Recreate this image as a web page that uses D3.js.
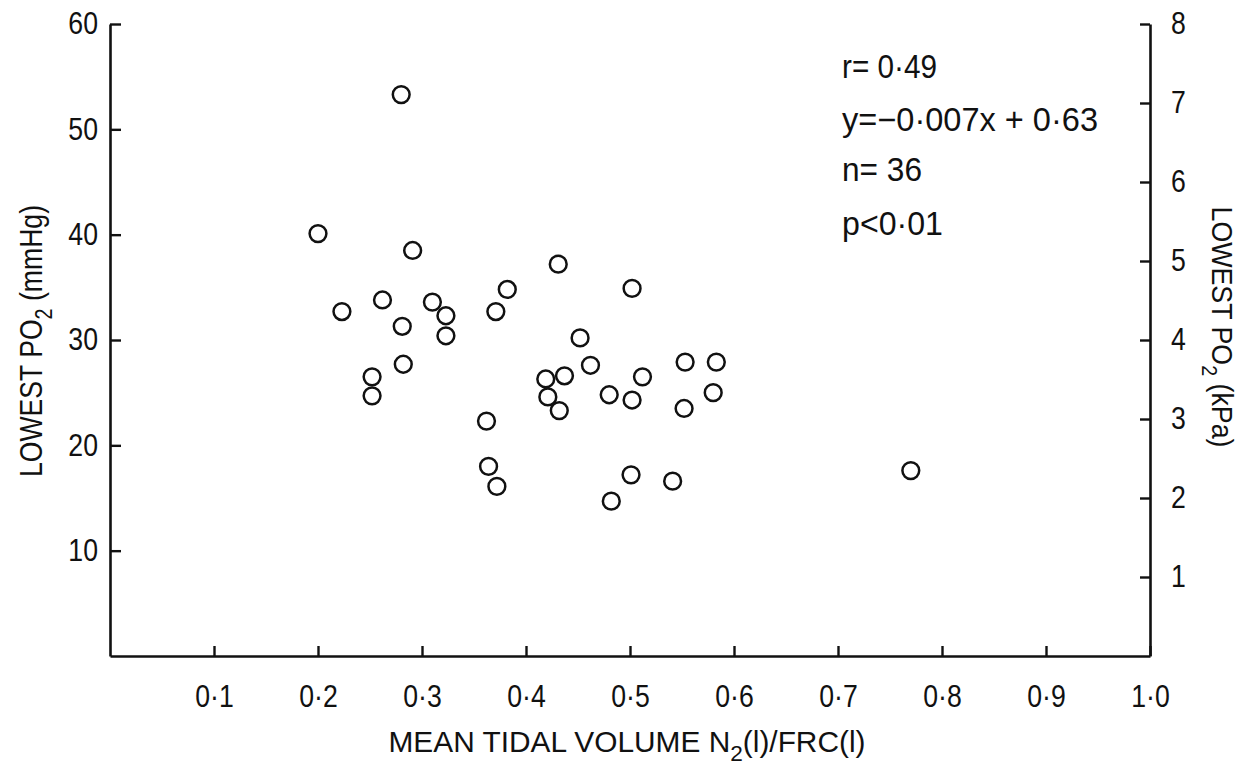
<!DOCTYPE html>
<html>
<head>
<meta charset="utf-8">
<script src="https://cdn.jsdelivr.net/npm/d3@7"></script>
<style>
  html, body { margin: 0; padding: 0; background: #fff; }
  svg { display: block; }
  text { font-family: "Liberation Sans", Arial, sans-serif; fill: #111; }
</style>
</head>
<body>
<svg id="chart" width="1252" height="775"></svg>
<script>
// ---- data ----
const tidalRatio = [0.280, 0.200, 0.291, 0.431, 0.382, 0.502, 0.223, 0.262, 0.310, 0.323,
                    0.371, 0.281, 0.323, 0.452, 0.282, 0.462, 0.252, 0.252, 0.419, 0.437,
                    0.512, 0.421, 0.432, 0.480, 0.502, 0.362, 0.364, 0.372, 0.501, 0.482,
                    0.553, 0.583, 0.580, 0.552, 0.541, 0.770];
const lowestPO2 = [53.3, 40.1, 38.5, 37.2, 34.8, 34.9, 32.7, 33.8, 33.6, 32.3,
                   32.7, 31.3, 30.4, 30.2, 27.7, 27.6, 26.5, 24.7, 26.3, 26.6,
                   26.5, 24.6, 23.3, 24.8, 24.3, 22.3, 18.0, 16.1, 17.2, 14.7,
                   27.9, 27.9, 25.0, 23.5, 16.6, 17.6];
const xTicks = [0.1, 0.2, 0.3, 0.4, 0.5, 0.6, 0.7, 0.8, 0.9, 1.0];
const mmHgTicks = [10, 20, 30, 40, 50, 60];
const kPaTicks = [1, 2, 3, 4, 5, 6, 7, 8];
const statLines = ["r= 0·49", "y=−0·007x + 0·63", "n= 36", "p<0·01"];

const svg = d3.select("#chart");
const ink = "#111";
const squeeze = 0.86;

const x = d3.scaleLinear().domain([0, 1]).range([110, 1150]);
const y = d3.scaleLinear().domain([0, 60]).range([656, 24]);
const yk = d3.scaleLinear().domain([0, 8]).range([656, 24]);

const fmt = d => d.toFixed(1).replace(".", "·");

function styleAxis(g, size) {
  g.attr("font-size", null).attr("font-family", null);
  g.selectAll("path.domain").attr("stroke", ink).attr("stroke-width", 2.6);
  g.selectAll(".tick line").attr("stroke", ink).attr("stroke-width", 2.4);
  g.selectAll(".tick text")
    .attr("transform", `scale(${squeeze},1)`)
    .style("font-family", "'Liberation Sans', Arial, sans-serif")
    .style("font-size", size + "px")
    .style("fill", ink);
}

// bottom axis
svg.append("g")
  .attr("transform", `translate(0,${y(0)})`)
  .call(d3.axisBottom(x).tickValues(xTicks).tickFormat(fmt)
        .tickSize(-10).tickSizeOuter(0).tickPadding(29))
  .call(g => styleAxis(g, 31));

// left axis (mmHg)
svg.append("g")
  .attr("transform", `translate(${x(0)},0)`)
  .call(d3.axisLeft(y).tickValues(mmHgTicks).tickFormat(d3.format("d"))
        .tickSize(-11).tickSizeOuter(0).tickPadding(12 / squeeze))
  .call(g => styleAxis(g, 31));

// right axis (kPa)
svg.append("g")
  .attr("transform", `translate(${x(1)},0)`)
  .call(d3.axisRight(yk).tickValues(kPaTicks).tickFormat(d3.format("d"))
        .tickSize(-10).tickSizeOuter(0).tickPadding(21 / squeeze))
  .call(g => styleAxis(g, 31));

// points
svg.append("g").selectAll("circle")
  .data(tidalRatio.map((v, i) => [v, lowestPO2[i]]))
  .join("circle")
  .attr("cx", d => x(d[0]))
  .attr("cy", d => y(d[1]))
  .attr("r", 8.4)
  .attr("fill", "none")
  .attr("stroke", ink)
  .attr("stroke-width", 2.5);

// statistics text
svg.append("g").selectAll("text")
  .data(statLines)
  .join("text")
  .attr("x", 842)
  .attr("y", (d, i) => [78, 131, 181, 235][i])
  .style("font-size", "33px")
  .attr("textLength", (d, i) => [95, 256, 80, 101][i])
  .attr("lengthAdjust", "spacingAndGlyphs")
  .text(d => d);

// x axis title
const xt = svg.append("text")
  .attr("x", 627).attr("y", 752)
  .attr("text-anchor", "middle")
  .style("font-size", "29px")
  .attr("textLength", 477).attr("lengthAdjust", "spacingAndGlyphs");
xt.append("tspan").text("MEAN TIDAL VOLUME N");
xt.append("tspan").attr("dy", 9).style("font-size", "22px").text("2");
xt.append("tspan").attr("dy", -9).text("(l)/FRC(l)");

// left y title
const lt = svg.append("text")
  .attr("transform", "translate(42,341) rotate(-90)")
  .attr("text-anchor", "middle")
  .style("font-size", "31px")
  .attr("textLength", 272).attr("lengthAdjust", "spacingAndGlyphs");
lt.append("tspan").text("LOWEST PO");
lt.append("tspan").attr("dy", 10).style("font-size", "23px").text("2");
lt.append("tspan").attr("dy", -10).text(" (mmHg)");

// right y title
const rt = svg.append("text")
  .attr("transform", "translate(1212,327) rotate(90)")
  .attr("text-anchor", "middle")
  .style("font-size", "30px")
  .attr("textLength", 241).attr("lengthAdjust", "spacingAndGlyphs");
rt.append("tspan").text("LOWEST PO");
rt.append("tspan").attr("dy", 10).style("font-size", "22px").text("2");
rt.append("tspan").attr("dy", -10).text(" (kPa)");
</script>
</body>
</html>
